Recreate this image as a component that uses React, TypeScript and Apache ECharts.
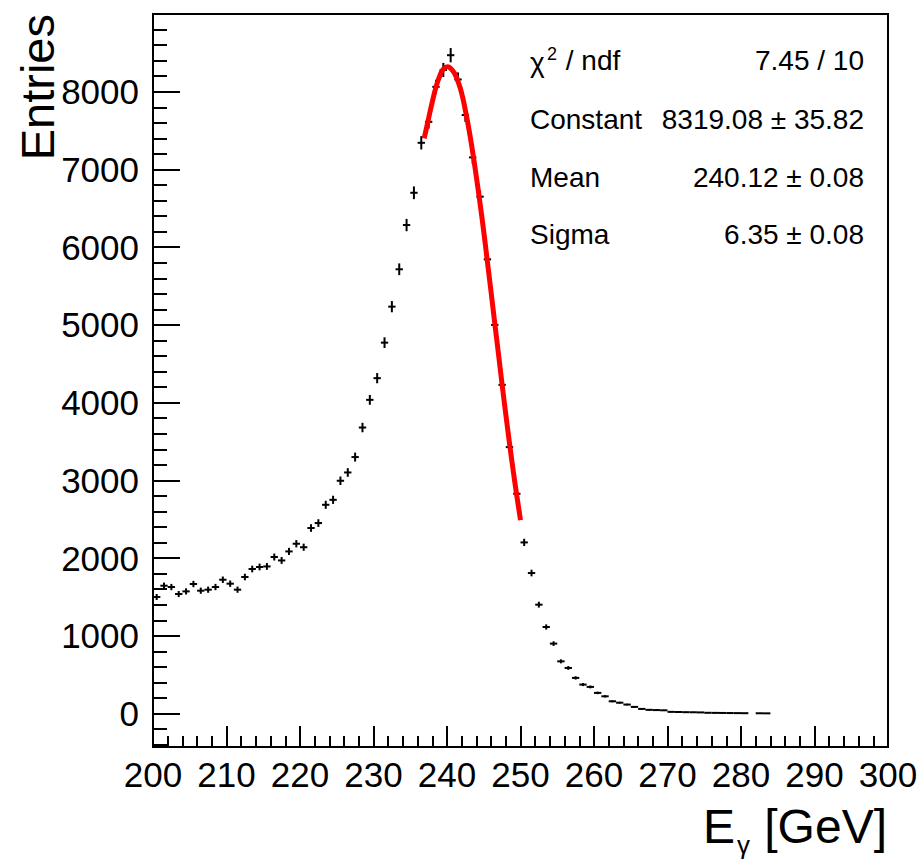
import React, { useEffect, useRef } from "react";
import * as echarts from "echarts";

const FONT = '"Liberation Sans", Arial, Helvetica, sans-serif';

// Histogram: 1 GeV bins starting at 200 GeV
const binStart = 200;
const binWidth = 1;
const counts = [
  1500, 1645, 1628, 1538, 1572, 1667, 1581, 1594, 1628, 1722,
  1671, 1594, 1757, 1860, 1886, 1893, 2014, 1970, 2086, 2185,
  2140, 2387, 2451, 2686, 2750, 2995, 3102, 3300, 3680, 4036,
  4315, 4772, 5235, 5716, 6285, 6700, 7343, 7613, 8063, 8280,
  8470, 8158, 7700, 7155, 6650, 5844, 5000, 4229, 3428, 2828,
  2202, 1808, 1401, 1114, 900, 672, 587, 459, 373, 343,
  266, 222, 158, 140, 116, 86, 60, 48, 45, 42,
  22, 20, 18, 17, 15, 10, 9, 8, 7, 6,
  5, 0, 4, 3,
];

// Fitted gaussian curve
const fitX = [
  236.9, 237.5, 238, 238.5, 239, 239.5, 240.1, 240.5, 241, 241.5, 242, 242.5,
  243, 243.5, 244, 244.5, 245, 245.5, 246, 246.5, 247, 247.5, 248, 248.5, 249,
  249.5, 250,
];
const fitY = [
  7400, 7660, 7870, 8060, 8200, 8290, 8320, 8300, 8240, 8130, 7980, 7760,
  7510, 7220, 6900, 6560, 6200, 5810, 5420, 5020, 4630, 4230, 3850, 3480, 3130,
  2800, 2490,
];

const yMajorTicks = [0, 1000, 2000, 3000, 4000, 5000, 6000, 7000, 8000];
const yMinorTicks = [
  -400, -200, 200, 400, 600, 800, 1200, 1400, 1600, 1800, 2200, 2400, 2600,
  2800, 3200, 3400, 3600, 3800, 4200, 4400, 4600, 4800, 5200, 5400, 5600, 5800,
  6200, 6400, 6600, 6800, 7200, 7400, 7600, 7800, 8200, 8400, 8600, 8800,
];

const statNames = ["Constant", "Mean", "Sigma"];
const statValues = ["7.45 / 10", "8319.08 ± 35.82", "240.12 ± 0.08", "6.35 ± 0.08"];

export default function App() {
  const ref = useRef<HTMLDivElement>(null);

  useEffect(() => {
    if (!ref.current) return;
    const chart = echarts.init(ref.current, null, { renderer: "svg" });

    const histData = counts.map((c, i) => [binStart + binWidth * (i + 0.5), c]);
    const fitData = fitX.map((x, i) => [x, fitY[i]]);

    const rowY = [60, 119, 177, 234];
    const textBase = { fontFamily: FONT, fill: "#000" };

    const graphic: any[] = [
      // Y title
      {
        type: "text",
        x: 37,
        y: 14,
        rotation: Math.PI / 2,
        style: { ...textBase, text: "Entries", fontSize: 47, align: "right", verticalAlign: "middle" },
      },
      // X title
      {
        type: "text",
        x: 703,
        y: 826,
        style: { ...textBase, text: "E", fontSize: 48, align: "left", verticalAlign: "middle" },
      },
      {
        type: "text",
        x: 737,
        y: 845,
        style: { ...textBase, text: "γ", fontSize: 26, align: "left", verticalAlign: "middle" },
      },
      {
        type: "text",
        x: 887,
        y: 826,
        style: { ...textBase, text: "[GeV]", fontSize: 48, align: "right", verticalAlign: "middle" },
      },
      // Stat box: chi2 / ndf row
      {
        type: "text",
        x: 530,
        y: rowY[0] + 2,
        style: { ...textBase, text: "χ", fontSize: 28, align: "left", verticalAlign: "middle" },
      },
      {
        type: "text",
        x: 547,
        y: rowY[0] - 6,
        style: { ...textBase, text: "2", fontSize: 18, align: "left", verticalAlign: "middle" },
      },
      {
        type: "text",
        x: 558,
        y: rowY[0],
        style: { ...textBase, text: " / ndf", fontSize: 28, align: "left", verticalAlign: "middle" },
      },
    ];
    statNames.forEach((n, i) => {
      graphic.push({
        type: "text",
        x: 530,
        y: rowY[i + 1],
        style: { ...textBase, text: n, fontSize: 28, align: "left", verticalAlign: "middle" },
      });
    });
    statValues.forEach((v, i) => {
      graphic.push({
        type: "text",
        x: 864,
        y: rowY[i],
        style: { ...textBase, text: v, fontSize: 28, align: "right", verticalAlign: "middle" },
      });
    });

    const option: any = {
      animation: false,
      backgroundColor: "#fff",
      grid: {
        left: 153,
        top: 14,
        right: 33,
        bottom: 115,
        show: true,
        borderColor: "#000",
        borderWidth: 2,
        backgroundColor: "transparent",
      },
      xAxis: {
        type: "value",
        min: 200,
        max: 300,
        interval: 10,
        axisLine: { show: true, onZero: false, lineStyle: { color: "#000", width: 2 } },
        axisTick: { show: true, inside: true, length: 21, lineStyle: { color: "#000", width: 2 } },
        minorTick: { show: true, splitNumber: 5, length: 11, lineStyle: { color: "#000", width: 2 } },
        splitLine: { show: false },
        minorSplitLine: { show: false },
        axisLabel: {
          fontSize: 35,
          color: "#000",
          fontFamily: FONT,
          margin: 10,
          showMinLabel: true,
          showMaxLabel: true,
          formatter: (v: number) => String(v),
        },
      },
      yAxis: [
        {
          type: "value",
          min: -430,
          max: 9000,
          position: "left",
          axisLine: { show: true, onZero: false, lineStyle: { color: "#000", width: 2 } },
          axisTick: {
            show: true,
            inside: true,
            length: 27,
            customValues: yMajorTicks,
            lineStyle: { color: "#000", width: 2 },
          },
          axisLabel: {
            customValues: yMajorTicks,
            fontSize: 35,
            color: "#000",
            fontFamily: FONT,
            margin: 14,
            formatter: (v: number) => String(v),
          },
          splitLine: { show: false },
        },
        {
          type: "value",
          min: -430,
          max: 9000,
          position: "left",
          offset: 0,
          axisLine: { show: false },
          axisTick: {
            show: true,
            inside: true,
            length: 14,
            customValues: yMinorTicks,
            lineStyle: { color: "#000", width: 2 },
          },
          axisLabel: { show: false },
          splitLine: { show: false },
        },
      ],
      series: [
        {
          type: "custom",
          xAxisIndex: 0,
          yAxisIndex: 0,
          data: histData,
          encode: { x: 0, y: 1 },
          z: 2,
          renderItem: (params: any, api: any) => {
            const x = api.value(0);
            const y = api.value(1);
            if (!(y > 0)) return { type: "group", children: [] };
            const err = Math.sqrt(y);
            const pL = api.coord([x - binWidth / 2, y]);
            const pR = api.coord([x + binWidth / 2, y]);
            const pT = api.coord([x, y + err]);
            const pB = api.coord([x, y - err]);
            return {
              type: "group",
              children: [
                {
                  type: "line",
                  shape: { x1: pL[0], y1: pL[1], x2: pR[0], y2: pR[1] },
                  style: { stroke: "#000", lineWidth: 2 },
                },
                {
                  type: "line",
                  shape: { x1: pT[0], y1: pT[1], x2: pB[0], y2: pB[1] },
                  style: { stroke: "#000", lineWidth: 2 },
                },
              ],
            };
          },
        },
        {
          type: "line",
          xAxisIndex: 0,
          yAxisIndex: 0,
          data: fitData,
          showSymbol: false,
          smooth: true,
          z: 3,
          lineStyle: { color: "#ff0000", width: 5 },
        },
      ],
      graphic,
    };

    chart.setOption(option);
    return () => chart.dispose();
  }, []);

  return (
    <div
      ref={ref}
      style={{ position: "fixed", left: 0, top: 0, width: 921, height: 862, background: "#fff" }}
    />
  );
}
